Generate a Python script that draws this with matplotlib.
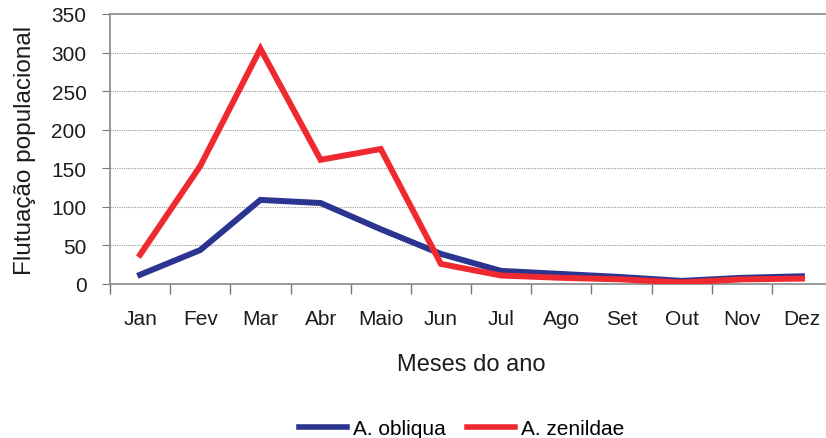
import matplotlib
matplotlib.use("Agg")
import matplotlib.pyplot as plt
from matplotlib.lines import Line2D

months = ["Jan", "Fev", "Mar", "Abr", "Maio", "Jun", "Jul", "Ago", "Set", "Out", "Nov", "Dez"]
obliqua = [12, 44, 109, 105, 71, 39, 17, 13, 9, 4, 8, 10]
zenildae = [38, 153, 305, 161, 175, 26, 11, 8, 6, 2, 6, 7]
yticks = [0, 50, 100, 150, 200, 250, 300, 350]

plt.rcParams['font.family'] = ['Liberation Sans', 'DejaVu Sans']

W, H = 826, 439
fig = plt.figure(figsize=(W / 100, H / 100), dpi=100)
left, right, bottom, top = 110, 832, 285, 15
ax = fig.add_axes([left / W, 1 - bottom / H, (right - left) / W, (bottom - top) / H])

blue = "#2b3590"
red = "#ee2a30"
txt = "#1c1c1c"
x = list(range(len(months)))
ax.plot(x, obliqua, color=blue, lw=4.3, solid_joinstyle='miter', zorder=3, label="A. obliqua")
ax.plot(x, zenildae, color=red, lw=4.3, solid_joinstyle='miter', zorder=4, label="A. zenildae")

ax.set_xlim(-0.5, len(months) - 0.5)
ax.set_ylim(0, 350)
ax.set_yticks(yticks)
ax.set_yticklabels([str(v) for v in yticks], fontsize=15, color=txt)
ax.set_xticks(x)
ax.set_xticklabels(months, fontsize=15, color=txt)
ax.set_xticks([i + 0.5 for i in range(-1, len(months))], minor=True)
ax.tick_params(axis='x', which='major', length=0, pad=18)
ax.tick_params(axis='x', which='minor', length=7, color="#777777", width=1)
ax.tick_params(axis='y', which='major', length=6, color="#777777", pad=11)

for v in yticks[1:-1]:
    ax.axhline(v, color="#999999", lw=0.8, ls=(0, (1, 1)), zorder=1)

for s in ['left', 'bottom', 'top']:
    ax.spines[s].set_color("#888888")
    ax.spines[s].set_linewidth(1.2)
ax.spines['right'].set_visible(False)

ax.set_ylabel("Flutuação populacional", fontsize=17.5, color=txt, labelpad=11)
ax.set_xlabel("Meses do ano", fontsize=17, color=txt, labelpad=18)

handles = [Line2D([], [], color=blue, lw=4), Line2D([], [], color=red, lw=4)]
fig.legend(handles, ["A. obliqua", "A. zenildae"], loc='center', bbox_to_anchor=(0.559, 1 - 430 / H),
           ncol=2, frameon=False, fontsize=15, handlelength=2.3, handletextpad=0.3, columnspacing=1.0)

fig.savefig("out.png", dpi=100)
